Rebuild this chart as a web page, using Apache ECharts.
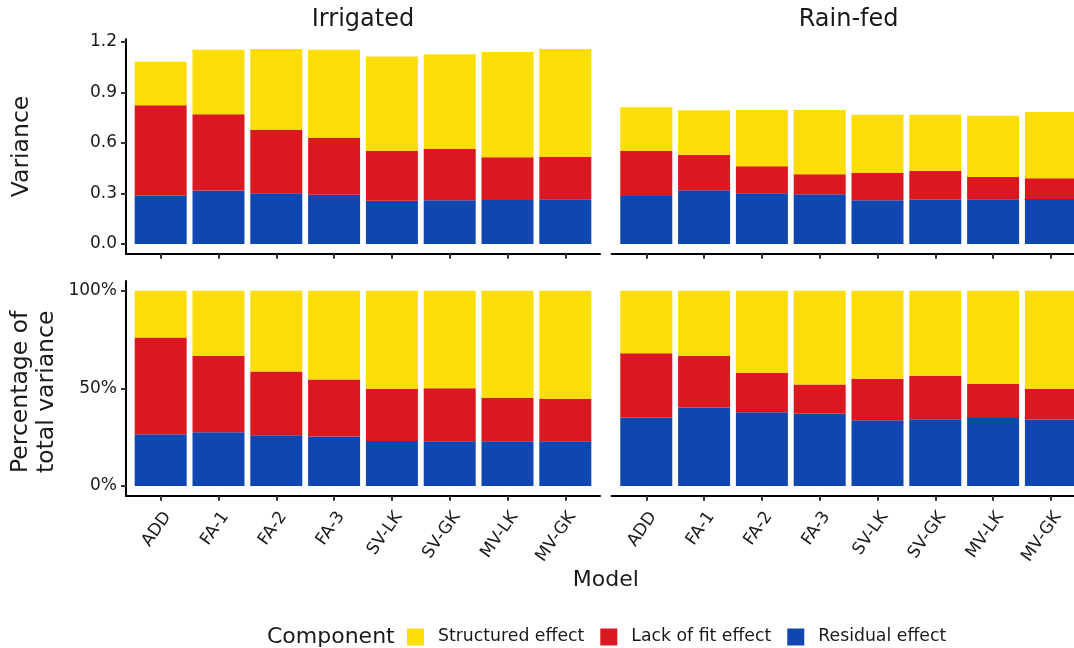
<!DOCTYPE html>
<html>
<head>
<meta charset="utf-8">
<script src="https://cdn.jsdelivr.net/npm/echarts@6/dist/echarts.min.js"></script>
<style>
  html, body { margin: 0; padding: 0; background: #ffffff; overflow: hidden; }
  #chart { width: 1090px; height: 648px; }
</style>
</head>
<body>
<div id="chart"></div>
<script>
// Variance components per model, for two environments
const models = ['ADD', 'FA-1', 'FA-2', 'FA-3', 'SV-LK', 'SV-GK', 'MV-LK', 'MV-GK'];
const environments = ['Irrigated', 'Rain-fed'];
const componentNames = ['Structured effect', 'Lack of fit effect', 'Residual effect'];

const irrigatedResidual   = [0.287, 0.317, 0.301, 0.293, 0.257, 0.259, 0.261, 0.265];
const irrigatedLackOfFit  = [0.537, 0.453, 0.378, 0.337, 0.297, 0.305, 0.254, 0.252];
const irrigatedStructured = [0.259, 0.384, 0.479, 0.524, 0.559, 0.563, 0.626, 0.641];

const rainfedResidual   = [0.285, 0.319, 0.301, 0.295, 0.259, 0.263, 0.265, 0.267];
const rainfedLackOfFit  = [0.267, 0.210, 0.161, 0.119, 0.163, 0.171, 0.133, 0.123];
const rainfedStructured = [0.260, 0.265, 0.334, 0.382, 0.346, 0.334, 0.364, 0.394];

const varianceTicks = [0, 0.3, 0.6, 0.9, 1.2];
const percentTicks = [0, 50, 100];

const COLORS = {
  'Structured effect': '#FBDD08',
  'Lack of fit effect': '#DB1820',
  'Residual effect': '#1046B0'
};
const FONT = 'DejaVu Sans';
const INK = '#1a1a1a';

// stacked components for each environment (bottom to top)
const envData = [
  { 'Residual effect': irrigatedResidual, 'Lack of fit effect': irrigatedLackOfFit, 'Structured effect': irrigatedStructured },
  { 'Residual effect': rainfedResidual, 'Lack of fit effect': rainfedLackOfFit, 'Structured effect': rainfedStructured }
];
const stackOrder = ['Residual effect', 'Lack of fit effect', 'Structured effect'];

function totals(d) {
  return models.map((_, i) => stackOrder.reduce((s, k) => s + d[k][i], 0));
}

// facet geometry: discrete x scale with 0.6 expansion, 5% continuous expansion on y
const panelW = 474;
const colLeft = [126, 611.6];
const rowTop = [39.3, 280.9];
const rowH = [214.4, 214.9];
const varMax = Math.max(...envData.flatMap(totals));
const varPad = varMax * 0.05;

const grids = [], xAxes = [], yAxes = [], series = [];
let gi = 0;
for (let row = 0; row < 2; row++) {
  for (let col = 0; col < 2; col++) {
    grids.push({ left: colLeft[col], top: rowTop[row], width: panelW, height: rowH[row], containLabel: false });
    xAxes.push({
      type: 'value', gridIndex: gi, min: 0.4, max: 8.6,
      splitLine: { show: false },
      axisLine: { show: true, onZero: false, lineStyle: { color: '#000', width: 2 } },
      axisTick: { show: true, length: 5, lineStyle: { color: '#333', width: 2 }, customValues: models.map((_, i) => i + 1) },
      axisLabel: {
        show: row === 1,
        customValues: models.map((_, i) => i + 1),
        formatter: v => models[Math.round(v) - 1] || '',
        rotate: 55, align: 'right', verticalAlign: 'top', margin: 13,
        fontFamily: FONT, fontSize: 17, color: INK
      }
    });
    const isVar = row === 0;
    yAxes.push({
      type: 'value', gridIndex: gi,
      min: isVar ? -varPad : -5,
      max: isVar ? varMax + varPad : 105,
      show: col === 0,
      splitLine: { show: false },
      axisLine: { show: true, lineStyle: { color: '#000', width: 2 } },
      axisTick: { show: true, length: 5, lineStyle: { color: '#333', width: 2 }, customValues: isVar ? varianceTicks : percentTicks },
      axisLabel: {
        customValues: isVar ? varianceTicks : percentTicks,
        formatter: v => isVar ? v.toFixed(1) : Math.round(v) + '%',
        margin: 9, fontFamily: FONT, fontSize: 17, color: INK
      }
    });
    const d = envData[col];
    const tot = totals(d);
    stackOrder.forEach(name => {
      const vals = isVar ? d[name] : d[name].map((v, i) => 100 * v / tot[i]);
      // value first so that the stacked dimension is the y value
      series.push({
        type: 'bar', name, xAxisIndex: gi, yAxisIndex: gi,
        stack: 'panel' + gi, barWidth: 52,
        itemStyle: { color: COLORS[name] },
        encode: { x: 1, y: 0 },
        data: vals.map((v, i) => [v, i + 1])
      });
    });
    gi++;
  }
}

const titleFont = (size) => size + 'px "' + FONT + '"';
const graphic = [
  { type: 'text', x: colLeft[0] + panelW / 2, y: 20, style: { text: environments[0], font: titleFont(24), fill: INK, align: 'center', verticalAlign: 'middle' } },
  { type: 'text', x: colLeft[1] + panelW / 2, y: 20, style: { text: environments[1], font: titleFont(24), fill: INK, align: 'center', verticalAlign: 'middle' } },
  { type: 'text', x: 22, y: rowTop[0] + rowH[0] / 2, rotation: Math.PI / 2, style: { text: 'Variance', font: titleFont(23.5), fill: INK, align: 'center', verticalAlign: 'middle' } },
  { type: 'text', x: 34, y: 473, rotation: Math.PI / 2, style: { text: 'Percentage of\ntotal variance', font: titleFont(23.5), lineHeight: 26, fill: INK, align: 'left', verticalAlign: 'middle' } },
  { type: 'text', x: (colLeft[0] + colLeft[1] + panelW) / 2, y: 580, style: { text: 'Model', font: titleFont(22), fill: INK, align: 'center', verticalAlign: 'middle' } },
  { type: 'text', x: 267, y: 637, style: { text: 'Component', font: titleFont(22), fill: INK, align: 'left', verticalAlign: 'middle' } }
];

const chart = echarts.init(document.getElementById('chart'), null, { renderer: 'canvas' });
chart.setOption({
  animation: false,
  backgroundColor: '#ffffff',
  grid: grids,
  xAxis: xAxes,
  yAxis: yAxes,
  series,
  graphic,
  legend: {
    data: componentNames,
    left: 407, top: 628.5, padding: 0,
    orient: 'horizontal',
    icon: 'rect', itemWidth: 17, itemHeight: 17, itemGap: 16,
    textStyle: { fontFamily: FONT, fontSize: 17.3, color: INK, padding: [0, 0, 0, 9] },
    selectedMode: false
  }
});
</script>
</body>
</html>
